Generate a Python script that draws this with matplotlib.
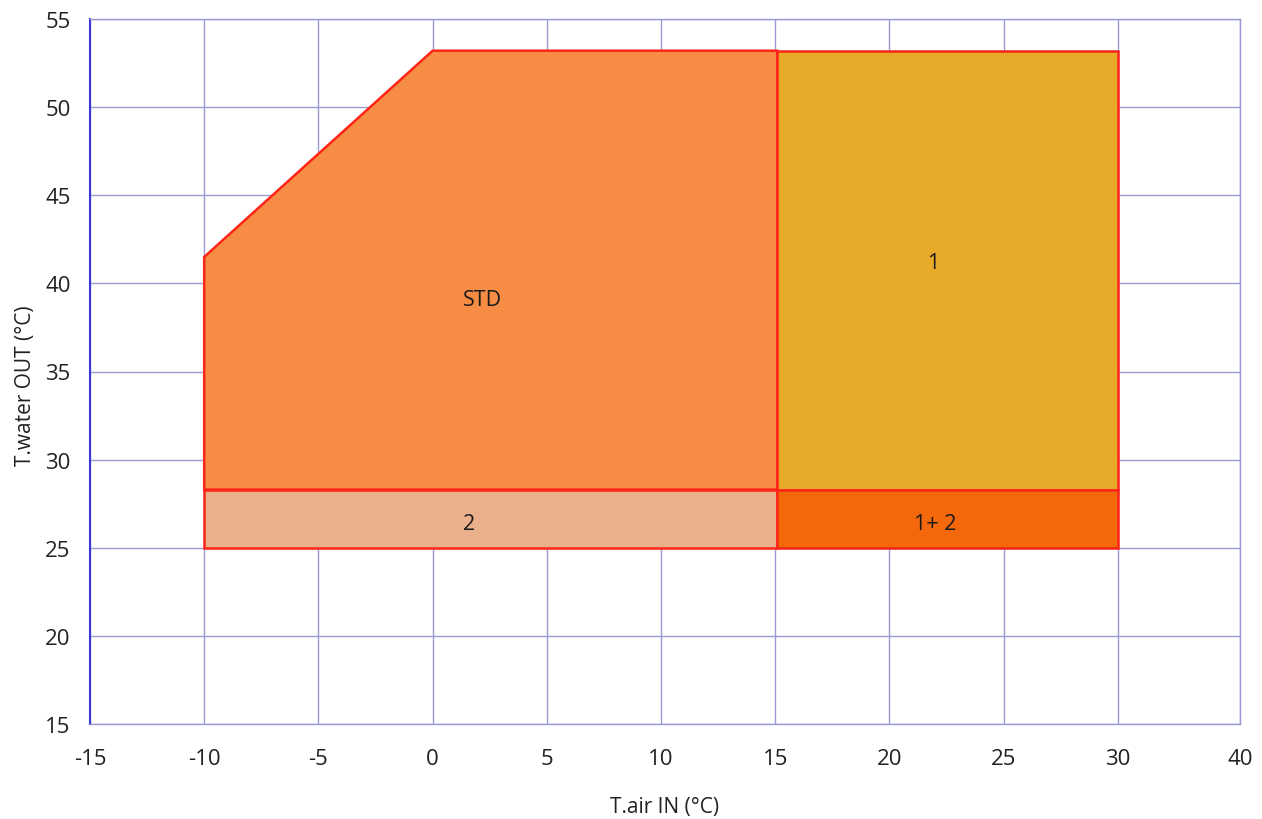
import matplotlib
matplotlib.use("Agg")
import matplotlib.pyplot as plt

# Operating envelope regions (T.air IN, T.water OUT)
std_x = [-10, 0, 15.1, 15.1, -10]
std_y = [41.5, 53.2, 53.2, 28.3, 28.3]

r1_x = [15.1, 30, 30, 15.1]
r1_y = [53.2, 53.2, 28.3, 28.3]

r2_x = [-10, 15.1, 15.1, -10]
r2_y = [28.3, 28.3, 25, 25]

r12_x = [15.1, 30, 30, 15.1]
r12_y = [28.3, 28.3, 25, 25]

region_labels = ["STD", "1", "2", "1+ 2"]
label_x = [2.2, 21.9, 1.6, 22.0]
label_y = [39.1, 41.2, 26.4, 26.4]

xtick_pos = [-15, -10, -5, 0, 5, 10, 15, 20, 25, 30, 35.35]
xtick_labels = ["-15", "-10", "-5", "0", "5", "10", "15", "20", "25", "30", "40"]
ytick_pos = [15, 20, 25, 30, 35, 40, 45, 50, 55]

plt.rcParams['font.family'] = ['Open Sans', 'DejaVu Sans']

fig = plt.figure(figsize=(12.62, 8.2), dpi=100)
ax = fig.add_axes([90/1262, 1-725/820, (1240-90)/1262, (725-20)/820])

ax.set_xlim(-15, 35.35)
ax.set_ylim(15, 55)

grid_c = '#9a9ad6'
for x in xtick_pos:
    ax.axvline(x, color=grid_c, lw=1.0, zorder=0)
for y in ytick_pos:
    ax.axhline(y, color=grid_c, lw=1.0, zorder=0)

edge = '#ff2418'
ax.fill(std_x, std_y, facecolor='#f78c45', edgecolor=edge, lw=1.8, zorder=2)
ax.fill(r1_x, r1_y, facecolor='#e8aa29', edgecolor=edge, lw=1.8, zorder=2)
ax.fill(r2_x, r2_y, facecolor='#eab08c', edgecolor=edge, lw=1.8, zorder=2)
ax.fill(r12_x, r12_y, facecolor='#f2680b', edgecolor=edge, lw=1.8, zorder=2)

for t, x, y in zip(region_labels, label_x, label_y):
    ax.text(x, y, t, ha='center', va='center', fontsize=15.5, color='#1a1a1a', zorder=3)

ax.set_xticks(xtick_pos)
ax.set_xticklabels(xtick_labels)
ax.set_yticks(ytick_pos)
ax.tick_params(axis='both', length=0, labelsize=16, colors='#222222')
ax.tick_params(axis='x', pad=17)
ax.tick_params(axis='y', pad=14)

for s in ['top', 'right', 'bottom']:
    ax.spines[s].set_color(grid_c)
    ax.spines[s].set_linewidth(1.0)
ax.spines['left'].set_color('#3a3ad0')
ax.spines['left'].set_linewidth(1.5)

ax.set_xlabel("T.air IN (°C)", fontsize=15, color='#222222', labelpad=20)
ax.set_ylabel("T.water OUT (°C)", fontsize=15, color='#222222')
ax.yaxis.set_label_coords(-0.047, 0.482)

fig.savefig("out.png", dpi=100, facecolor='white')
